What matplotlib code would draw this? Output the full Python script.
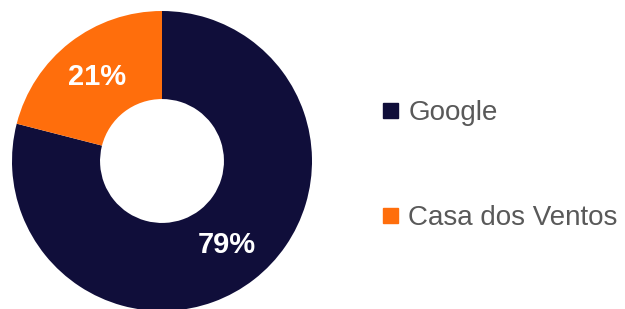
import matplotlib.pyplot as plt
from matplotlib.lines import Line2D

plt.rcParams['font.family'] = ['Liberation Sans', 'DejaVu Sans']

# dados do gráfico
labels = ['Google', 'Casa dos Ventos']
shares = [79, 21]
colors = ['#100E3A', '#FF6E0C']

fig = plt.figure(figsize=(6.25, 3.09), dpi=100)
W, H = 625, 309

# rosca: centro em (162, 161) px, raio 150 px
cx, cy, r = 162, 309 - 161, 150
ax = fig.add_axes([(cx - r) / W, (cy - r) / H, 2 * r / W, 2 * r / H])

wedges, texts, autotexts = ax.pie(
    shares, colors=colors, startangle=90, counterclock=False,
    autopct=lambda p: f'{p:.0f}%', pctdistance=0.71,
    wedgeprops=dict(width=0.587, edgecolor='none'),
    textprops=dict(color='white', fontsize=21, fontweight='bold'),
    radius=1.0,
)
ax.set_xlim(-1, 1)
ax.set_ylim(-1, 1)
ax.axis('off')

handles = [Line2D([0], [0], marker='s', linestyle='none', markersize=10.8,
                  markerfacecolor=c, markeredgecolor=c) for c in colors]
fig.legend(handles, labels, loc='center left', bbox_to_anchor=(382 / W, 1 - 165.5 / H),
           frameon=False, fontsize=20, labelcolor='#595959',
           handlelength=0.6, handletextpad=0.35, labelspacing=2.85,
           borderpad=0, borderaxespad=0)

fig.savefig('out.png', dpi=100)
